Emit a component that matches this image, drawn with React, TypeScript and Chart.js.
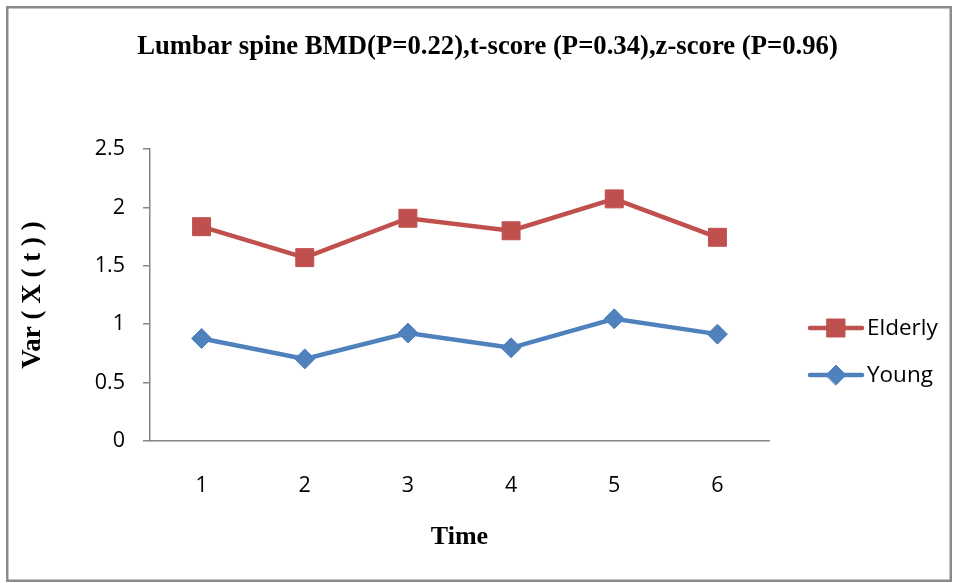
import React, { useEffect, useRef } from 'react';
import { Chart, registerables } from 'chart.js';
import { drawPoint } from 'chart.js/helpers';

Chart.register(...registerables);

// Measurement times and the variance of each group at those times
const timePoints = ['1', '2', '3', '4', '5', '6'];
const elderlyValues = [1.835, 1.57, 1.907, 1.8, 2.073, 1.744];
const youngValues = [0.878, 0.703, 0.924, 0.798, 1.046, 0.915];
const yTickValues = [0, 0.5, 1, 1.5, 2, 2.5];

const chartTitle = 'Lumbar spine BMD(P=0.22),t-score (P=0.34),z-score (P=0.96)';
const xAxisTitle = 'Time';
const yAxisTitle = 'Var ( X ( t ) )';

const RED = '#C0504D';
const BLUE = '#4F81BD';
const AXIS_GREY = '#868686';
const SERIF = '"Liberation Serif", "Times New Roman", serif';
const SANS = '"Open Sans", "Noto Sans", sans-serif';

const W = 958;
const H = 583;

// Outer frame around the whole chart
const framePlugin = {
  id: 'frame',
  afterDraw(chart: any) {
    const { ctx } = chart;
    ctx.save();
    ctx.strokeStyle = '#8a8a8a';
    ctx.lineWidth = 2.5;
    ctx.strokeRect(7.25, 7.25, 943.5, 573.5);
    ctx.restore();
  },
};

// Bold serif heading above the plot
const headingPlugin = {
  id: 'heading',
  afterDraw(chart: any) {
    const { ctx } = chart;
    ctx.save();
    ctx.font = `bold 26.7px ${SERIF}`;
    ctx.fillStyle = '#000';
    ctx.textAlign = 'center';
    ctx.textBaseline = 'alphabetic';
    ctx.fillText(chartTitle, 487.5, 54);
    ctx.restore();
  },
};

// Legend entries drawn as a line segment with the series marker on it
const lineLegendPlugin = {
  id: 'lineLegend',
  afterDraw(chart: any) {
    const { ctx } = chart;
    const rows = [
      { index: 0, y: 328 },
      { index: 1, y: 375 },
    ];
    ctx.save();
    rows.forEach(({ index, y }) => {
      const ds = chart.data.datasets[index];
      ctx.strokeStyle = ds.borderColor;
      ctx.lineWidth = ds.borderWidth;
      ctx.lineCap = 'round';
      ctx.beginPath();
      ctx.moveTo(810, y);
      ctx.lineTo(862, y);
      ctx.stroke();
      ctx.fillStyle = ds.pointBackgroundColor;
      ctx.strokeStyle = ds.pointBorderColor;
      ctx.lineWidth = ds.pointBorderWidth;
      drawPoint(ctx, { pointStyle: ds.pointStyle, radius: ds.pointRadius, borderWidth: ds.pointBorderWidth, rotation: 0 }, 836, y);
      ctx.fillStyle = '#000';
      ctx.font = `22.5px ${SANS}`;
      ctx.textAlign = 'left';
      ctx.textBaseline = 'middle';
      ctx.fillText(ds.label, 867, y + 1);
    });
    ctx.restore();
  },
};

export default function App() {
  const canvasRef = useRef<HTMLCanvasElement | null>(null);

  useEffect(() => {
    const canvas = canvasRef.current;
    if (!canvas) return;
    const chart = new Chart(canvas, {
      type: 'line',
      data: {
        labels: timePoints,
        datasets: [
          {
            label: 'Elderly',
            data: elderlyValues,
            borderColor: RED,
            backgroundColor: RED,
            borderWidth: 4.5,
            pointStyle: 'rect',
            pointRadius: 12.7,
            pointBackgroundColor: RED,
            pointBorderColor: RED,
            pointBorderWidth: 1,
            tension: 0,
            fill: false,
          },
          {
            label: 'Young',
            data: youngValues,
            borderColor: BLUE,
            backgroundColor: BLUE,
            borderWidth: 4.5,
            pointStyle: 'rectRot',
            pointRadius: 10,
            pointBackgroundColor: BLUE,
            pointBorderColor: BLUE,
            pointBorderWidth: 1,
            tension: 0,
            fill: false,
          },
        ],
      },
      options: {
        responsive: false,
        animation: false,
        devicePixelRatio: 1,
        layout: { padding: { top: 149, right: 189, left: 0, bottom: 0 } },
        plugins: {
          legend: { display: false },
          title: { display: false },
          tooltip: { enabled: false },
        },
        scales: {
          x: {
            type: 'category',
            offset: true,
            grid: { display: false, drawTicks: false },
            border: { display: true, color: AXIS_GREY, width: 1.5 },
            ticks: {
              color: '#000',
              font: { family: SANS, size: 21.5 },
              padding: 32,
              maxRotation: 0,
            },
            title: {
              display: true,
              text: xAxisTitle,
              color: '#000',
              font: { family: SERIF, size: 26, weight: 'bold' },
              padding: { top: 0, bottom: 30 },
            },
            afterFit(scale: any) {
              scale.height = 142;
            },
          },
          y: {
            min: 0,
            max: 2.5,
            grid: {
              drawOnChartArea: false,
              drawTicks: true,
              tickLength: 7,
              color: AXIS_GREY,
              lineWidth: 1.5,
            },
            border: { display: true, color: AXIS_GREY, width: 1.5 },
            ticks: {
              color: '#000',
              font: { family: SANS, size: 21.5 },
              padding: 18,
              callback: (value: any) => String(value),
            },
            afterBuildTicks(axis: any) {
              axis.ticks = yTickValues.map((v) => ({ value: v }));
            },
            title: {
              display: true,
              text: yAxisTitle,
              color: '#000',
              font: { family: SERIF, size: 27, weight: 'bold' },
              padding: { top: 17, bottom: 0 },
            },
            afterFit(scale: any) {
              scale.width = 150;
            },
          },
        },
      },
      plugins: [framePlugin, headingPlugin, lineLegendPlugin],
    });
    return () => chart.destroy();
  }, []);

  return (
    <div style={{ position: 'fixed', left: 0, top: 0, width: W, height: H, background: '#fff' }}>
      <canvas ref={canvasRef} width={W} height={H} style={{ display: 'block', width: W, height: H }} />
    </div>
  );
}
